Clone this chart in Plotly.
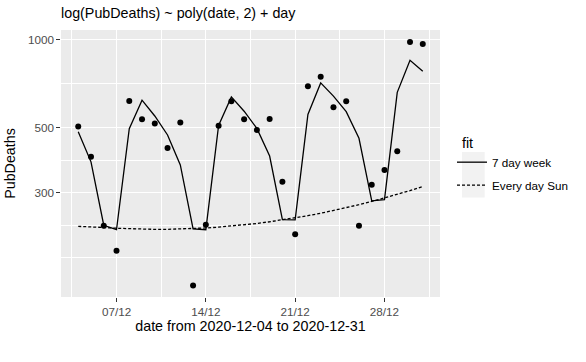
import plotly.graph_objects as go
import pandas as pd

dates = pd.date_range("2020-12-04", "2020-12-31", freq="D")
pub_deaths = [505, 398, 231, 190, 617, 534, 517, 426, 521, 144.5, 233, 508, 616, 534,
              491, 535, 327, 216, 693, 746, 587, 615, 231, 319, 358, 415, 981, 966]
fit_7day = [484, 382, 232, 224, 496, 621, 548, 472, 373, 225.5, 224, 509, 637, 569,
            497, 400, 242.6, 242, 555, 711, 641, 567, 460, 281, 284, 660, 850, 780]
fit_sun = [230.0, 229.6, 227.9, 226.6, 225.5, 225.0, 224.6, 224.7, 225.2, 225.9, 227.1, 228.6, 230.5, 232.8,
           235.3, 238.5, 241.9, 245.8, 250.2, 254.9, 260.4, 266.2, 272.7, 279.7, 287.2, 295.7, 304.7, 314.5]

x_tickvals = ["2020-12-07", "2020-12-14", "2020-12-21", "2020-12-28"]
x_ticktext = ["07/12", "14/12", "21/12", "28/12"]
x_minor = ["2020-12-03 12:00", "2020-12-10 12:00", "2020-12-17 12:00", "2020-12-24 12:00", "2020-12-31 12:00"]
y_tickvals = [300, 500, 1000]
y_ticktext = ["300", "500", "1000"]
y_minor = [179.97, 232.4, 387.3, 707.1]

FONT = "Liberation Sans, Arial, Helvetica, sans-serif"

fig = go.Figure()
fig.add_trace(go.Scatter(x=dates, y=pub_deaths, mode="markers", showlegend=False,
                         marker=dict(color="black", size=6)))
fig.add_trace(go.Scatter(x=dates, y=fit_7day, mode="lines", name="7 day week",
                         legendgroup="a", line=dict(color="black", width=1.3)))
fig.add_trace(go.Scatter(x=dates, y=fit_sun, mode="lines", name="Every day Sun",
                         legendgroup="b", line=dict(color="black", width=1.3, dash="3px,2px")))

fig.update_layout(
    width=586, height=362,
    margin=dict(l=61, r=146, t=30, b=65, autoexpand=False),
    paper_bgcolor="white", plot_bgcolor="#EBEBEB",
    font=dict(family=FONT, color="black"),
    title=dict(text="log(PubDeaths) ~ poly(date, 2) + day", x=61/586, xanchor="left",
               xref="container", y=(362-13)/362, yanchor="middle", yref="container",
               font=dict(size=14.3, color="black")),
    xaxis=dict(type="date", range=["2020-12-02 15:36", "2021-01-01 08:24"], automargin=False,
               tickmode="array", tickvals=x_tickvals, ticktext=x_ticktext,
               ticks="outside", ticklen=3.7, tickwidth=1.07, tickcolor="#333333",
               showgrid=True, gridcolor="white", gridwidth=1.4, zeroline=False, showline=False,
               minor=dict(tickmode="array", tickvals=x_minor, showgrid=True, gridcolor="white", gridwidth=0.7, ticks=""),
               tickfont=dict(size=11.7, color="#4D4D4D"),
               title=dict(text="date from 2020-12-04 to 2020-12-31", font=dict(size=14.3, color="black"), standoff=4)),
    yaxis=dict(type="log", range=[2.1203, 3.0327], automargin=False,
               tickmode="array", tickvals=y_tickvals, ticktext=y_ticktext,
               ticks="outside", ticklen=3.7, tickwidth=1.07, tickcolor="#333333",
               showgrid=True, gridcolor="white", gridwidth=1.4, zeroline=False, showline=False,
               minor=dict(tickmode="array", tickvals=y_minor, showgrid=True, gridcolor="white", gridwidth=0.7, ticks=""),
               tickfont=dict(size=11.7, color="#4D4D4D"),
               title=dict(text="PubDeaths", font=dict(size=14.3, color="black"), standoff=8)),
    legend=dict(title=dict(text="\u00a0\u00a0fit", font=dict(size=14.3, color="black")),
                font=dict(size=11.7, color="black"),
                x=(452-61)/379, xanchor="left", y=(297.3-129)/267.6, yanchor="top",
                bgcolor="rgba(0,0,0,0)", tracegroupgap=4),
    shapes=[dict(type="rect", xref="paper", yref="paper",
                 x0=(462-61)/379, x1=(484.7-61)/379,
                 y0=(297.3-197.7)/267.6, y1=(297.3-152)/267.6,
                 fillcolor="#F2F2F2", line=dict(width=0), layer="below")],
)

fig.write_html("out.html", config={"displayModeBar": False},
               post_script="document.body.style.margin='0';document.body.style.padding='0';")
